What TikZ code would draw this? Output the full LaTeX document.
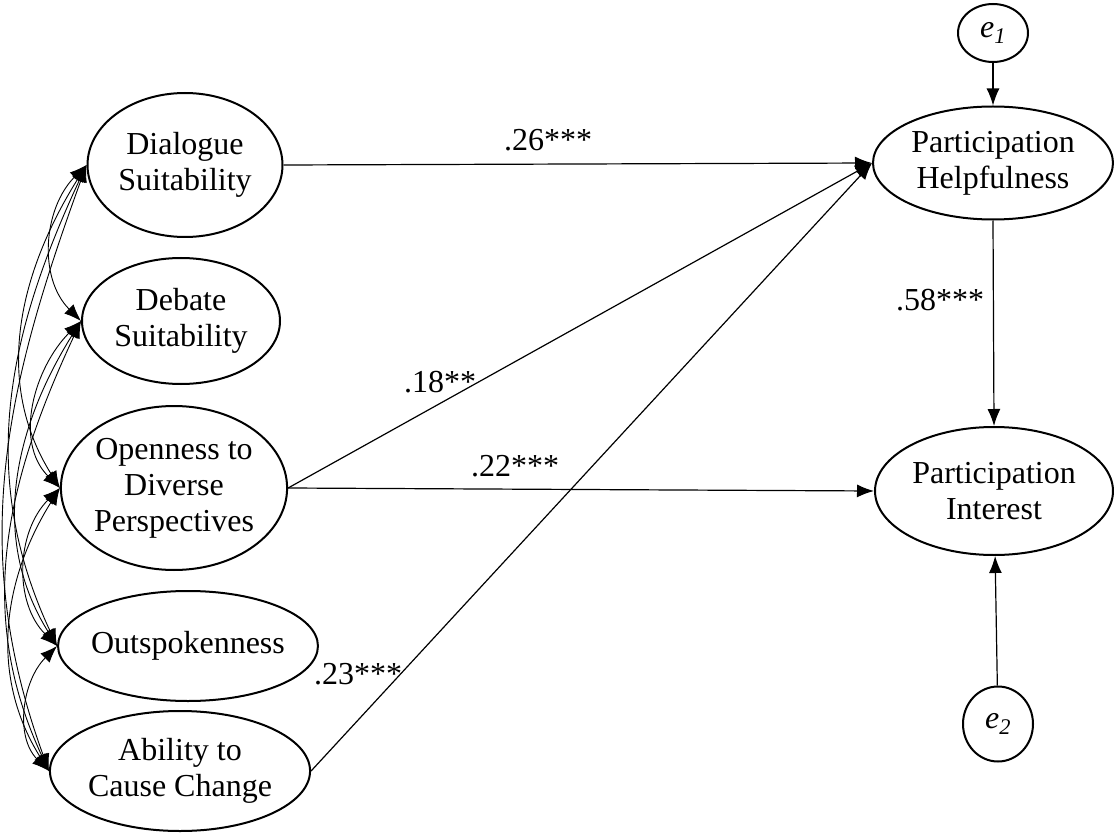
\documentclass[tikz,border=0pt]{standalone}
\usepackage{fontspec}
\setmainfont{Liberation Serif}
\usepackage{tikz}
\usetikzlibrary{arrows.meta,shapes}
\tikzstyle{latent} = [draw, ellipse, line width=2pt, inner sep=0pt,
    align=center, font=\fontsize{32}{36}\selectfont]
\tikzstyle{effect} = [-{Latex[length=17pt,width=13pt]}, line width=1.2pt]
\tikzstyle{cov} = [{Latex[length=17pt,width=13pt]}-{Latex[length=17pt,width=13pt]},
    line width=0.9pt]
\tikzstyle{coef} = [font=\fontsize{32}{36}\selectfont]

\begin{document}
\begin{tikzpicture}[x=1pt, y=1pt]
  \useasboundingbox (0,0) rectangle (1114,-837);
  % predictors
  \node [latent, minimum width=195pt, minimum height=144pt] (dia) at (185,-165) {Dialogue\\Suitability};
  \node [latent, minimum width=198pt, minimum height=126pt] (deb) at (181,-321) {Debate\\Suitability};
  \node [latent, minimum width=220pt, minimum height=164pt] (ope) at (174,-488) {Openness to\\Diverse\\Perspectives};
  \node [latent, minimum width=259pt, minimum height=110pt, inner xsep=-5pt] (outsp) at (188,-646) {Outspokenness};
  \node [latent, minimum width=228pt, minimum height=120pt] (abi) at (180,-771) {Ability to\\Cause Change};
  % outcomes
  \node [latent, minimum width=240pt, minimum height=113pt] (help) at (993,-163) {Participation\\Helpfulness};
  \node [latent, minimum width=238pt, minimum height=128pt] (inter) at (994,-491) {Participation\\Interest};
  \node [latent, minimum width=70pt, minimum height=58pt] (e1) at (993,-33) {\textit{e\textsubscript{1}}};
  \node [latent, minimum width=70pt, minimum height=75pt] (e2) at (998,-724) {\textit{e\textsubscript{2}}};
  % paths
  \draw [effect] (dia.east) -- (help.west);
  \draw [effect] (ope.east) -- (help.west);
  \draw [effect] (abi.east) -- (help.west);
  \draw [effect] (ope.east) -- (inter.west);
  \draw [effect] (help.south) -- (inter.north);
  \draw [effect] (e1) -- (help);
  \draw [effect] (e2) -- (inter);
  % covariances
  \foreach \a/\b/\o/\i in {dia/deb/225/135, dia/ope/238/122, dia/outsp/245/115, dia/abi/250/110,
      deb/ope/225/135, deb/outsp/238/122, deb/abi/245/115,
      ope/outsp/225/135, ope/abi/238/122, outsp/abi/225/135}
    \draw [cov] (\a.west) to[out=\o, in=\i] (\b.west);
  % coefficients
  \node [coef] (c26) at (548,-140) {.26***};
  \node [coef] (c58) at (940,-300) {.58***};
  \node [coef] (c18) at (440,-382) {.18**};
  \node [coef] (c22) at (515,-466) {.22***};
  \node [coef] (c23) at (358,-674) {.23***};
\end{tikzpicture}
\end{document}
